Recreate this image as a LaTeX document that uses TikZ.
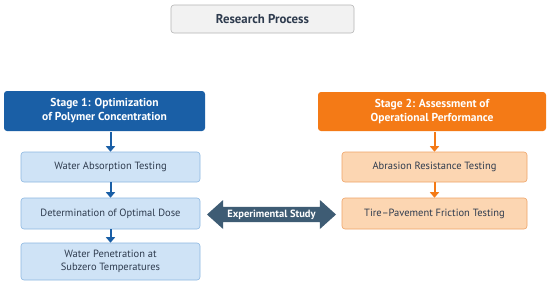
\documentclass[tikz,border=0pt]{standalone}
\usepackage{fontspec}
\setmainfont{PT Sans}
\usetikzlibrary{arrows.meta,shapes.arrows}
\definecolor{sblue}{HTML}{1A5FA6}
\definecolor{lblue}{HTML}{CFE3F6}
\definecolor{lblueb}{HTML}{8DB8E2}
\definecolor{sorange}{HTML}{F47A16}
\definecolor{lorange}{HTML}{FCD6B2}
\definecolor{loranb}{HTML}{EFA468}
\definecolor{slate}{HTML}{3E5C74}
\definecolor{tdark}{HTML}{2E3B4E}
\definecolor{gbox}{HTML}{F2F2F2}
\definecolor{gbord}{HTML}{B5B5B5}
\begin{document}
\begin{tikzpicture}[x=1pt,y=-1pt,
  titlebox/.style={draw=gbord,fill=gbox,rounded corners=3pt,line width=0.6pt,minimum width=183pt,minimum height=28pt,font=\fontsize{12.8}{15}\selectfont\bfseries,text=tdark},
  stageb/.style={fill=sblue,rounded corners=3pt,minimum width=201pt,minimum height=40pt,align=center,text=white,font=\fontsize{11.5}{14}\selectfont\bfseries},
  stageo/.style={fill=sorange,rounded corners=3pt,minimum width=228pt,minimum height=39pt,align=center,text=white,font=\fontsize{11.5}{14}\selectfont\bfseries},
  boxb/.style={draw=lblueb,fill=lblue,rounded corners=3pt,line width=0.6pt,minimum width=179pt,align=center,text=tdark,font=\fontsize{10.5}{13.5}\selectfont},
  boxo/.style={draw=loranb,fill=lorange,rounded corners=3pt,line width=0.6pt,minimum width=185pt,align=center,text=tdark,font=\fontsize{10.5}{13.5}\selectfont},
  arb/.style={draw=sblue,line width=2pt,-{Triangle[width=9pt,length=5.5pt]}},
  aro/.style={draw=sorange,line width=2pt,-{Triangle[width=9pt,length=5.5pt]}}]
\useasboundingbox (0,0) rectangle (550,285);
\fill[white] (0,0) rectangle (550,285);
\node[titlebox] (title) at (262.5,19) {Research Process};
\node[stageb] (s1) at (104.5,111) {Stage 1: Optimization\\of Polymer Concentration};
\node[boxb,minimum height=30pt] (b1) at (110.5,167) {Water Absorption Testing};
\node[boxb,minimum height=31pt] (b2) at (110.5,213.5) {Determination of Optimal Dose};
\node[boxb,minimum height=37pt] (b3) at (110.5,261.5) {Water Penetration at\\Subzero Temperatures};
\node[stageo] (s2) at (432,111.5) {Stage 2: Assessment of\\Operational Performance};
\node[boxo,minimum height=30pt] (o1) at (434.5,167) {Abrasion Resistance Testing};
\node[boxo,minimum height=31pt] (o2) at (434.5,213.5) {Tire--Pavement Friction Testing};
\draw[arb] (s1.south -| b1.north) ++(0,1) -- (b1.north);
\draw[arb] (b1) -- (b2);
\draw[arb] (b2) -- (b3);
\draw[aro] (s2.south -| o1.north) ++(0,1) -- (o1.north);
\draw[aro] (o1) -- (o2);
\node[double arrow,fill=slate,text=white,font=\fontsize{10.5}{12}\selectfont\bfseries,
  minimum height=129pt,minimum width=29pt,inner ysep=2pt,inner xsep=2pt,
  double arrow head extend=6.5pt,double arrow tip angle=84] (exp) at (271.5,214.5) {Experimental Study};
\end{tikzpicture}
\end{document}
